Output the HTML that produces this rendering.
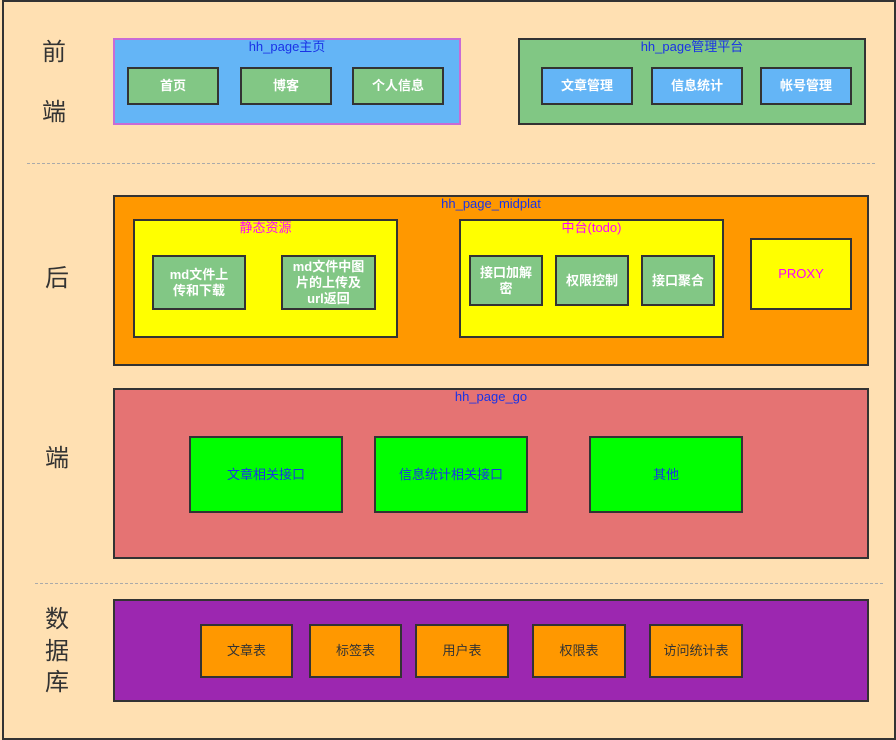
<!DOCTYPE html>
<html><head><meta charset="utf-8"><style>
*{margin:0;padding:0;box-sizing:border-box}
body{width:896px;height:740px;background:#ffe0b2;position:relative;overflow:hidden;font-family:"Liberation Sans","Noto Sans CJK SC",sans-serif}
.b{position:absolute;border:2px solid #333;display:flex;align-items:center;justify-content:center;text-align:center;font-size:13px;line-height:16px}
.t{position:absolute;font-size:13px;text-align:center;line-height:16px}
.w{color:#fff;font-weight:bold}
.g{background:#82c785}
.lab{position:absolute;font-size:24px;color:#333;line-height:28px}
.dash{position:absolute;height:0;border-top:1px dashed #aaa}
</style></head><body>
<div style="position:absolute;left:2px;top:0;width:894px;height:740px;border:2px solid #333;border-left-width:2px"></div>

<div class="lab" style="left:42px;top:39px">前</div>
<div class="lab" style="left:42px;top:99px">端</div>
<div class="lab" style="left:45px;top:265px">后</div>
<div class="lab" style="left:45px;top:445px">端</div>
<div class="lab" style="left:45px;top:606px">数</div>
<div class="lab" style="left:45px;top:638px">据</div>
<div class="lab" style="left:45px;top:669px">库</div>

<div class="dash" style="left:27px;width:848px;top:163px"></div>
<div class="dash" style="left:35px;width:848px;top:583px"></div>

<!-- front 1 -->
<div class="b" style="left:113px;top:38px;width:348px;height:87px;background:#64b5f6;border-color:#c86bd6"></div>
<div class="t" style="left:113px;top:39px;width:348px;color:#1a33e6">hh_page主页</div>
<div class="b g w" style="left:127px;top:67px;width:92px;height:38px">首页</div>
<div class="b g w" style="left:240px;top:67px;width:92px;height:38px">博客</div>
<div class="b g w" style="left:352px;top:67px;width:92px;height:38px">个人信息</div>

<!-- front 2 -->
<div class="b" style="left:518px;top:38px;width:348px;height:87px;background:#81c784"></div>
<div class="t" style="left:518px;top:39px;width:348px;color:#1a33e6">hh_page管理平台</div>
<div class="b w" style="left:541px;top:67px;width:92px;height:38px;background:#64b5f6">文章管理</div>
<div class="b w" style="left:651px;top:67px;width:92px;height:38px;background:#64b5f6">信息统计</div>
<div class="b w" style="left:760px;top:67px;width:92px;height:38px;background:#64b5f6">帐号管理</div>

<!-- midplat -->
<div class="b" style="left:113px;top:195px;width:756px;height:171px;background:#ff9800"></div>
<div class="t" style="left:113px;top:196px;width:756px;color:#1a33e6">hh_page_midplat</div>
<div class="b" style="left:133px;top:219px;width:265px;height:119px;background:#ffff00"></div>
<div class="t" style="left:133px;top:220px;width:265px;color:#ff00ff">静态资源</div>
<div class="b g w" style="left:152px;top:255px;width:94px;height:55px">md文件上<br>传和下载</div>
<div class="b g w" style="left:281px;top:255px;width:95px;height:55px">md文件中图<br>片的上传及<br>url返回</div>
<div class="b" style="left:459px;top:219px;width:265px;height:119px;background:#ffff00"></div>
<div class="t" style="left:459px;top:220px;width:265px;color:#ff00ff">中台(todo)</div>
<div class="b g w" style="left:469px;top:255px;width:74px;height:51px">接口加解<br>密</div>
<div class="b g w" style="left:555px;top:255px;width:74px;height:51px">权限控制</div>
<div class="b g w" style="left:641px;top:255px;width:74px;height:51px">接口聚合</div>
<div class="b" style="left:750px;top:238px;width:102px;height:72px;background:#ffff00;color:#ff00ff">PROXY</div>

<!-- go -->
<div class="b" style="left:113px;top:388px;width:756px;height:171px;background:#e57373"></div>
<div class="t" style="left:113px;top:389px;width:756px;color:#1a33e6">hh_page_go</div>
<div class="b" style="left:189px;top:436px;width:154px;height:77px;background:#00ff00;color:#1a33e6">文章相关接口</div>
<div class="b" style="left:374px;top:436px;width:154px;height:77px;background:#00ff00;color:#1a33e6">信息统计相关接口</div>
<div class="b" style="left:589px;top:436px;width:154px;height:77px;background:#00ff00;color:#1a33e6">其他</div>

<!-- db -->
<div class="b" style="left:113px;top:599px;width:756px;height:103px;background:#9c27b0"></div>
<div class="b" style="left:200px;top:624px;width:93px;height:54px;background:#ff9800;color:#333">文章表</div>
<div class="b" style="left:309px;top:624px;width:93px;height:54px;background:#ff9800;color:#333">标签表</div>
<div class="b" style="left:415px;top:624px;width:94px;height:54px;background:#ff9800;color:#333">用户表</div>
<div class="b" style="left:532px;top:624px;width:94px;height:54px;background:#ff9800;color:#333">权限表</div>
<div class="b" style="left:649px;top:624px;width:94px;height:54px;background:#ff9800;color:#333">访问统计表</div>
</body></html>
